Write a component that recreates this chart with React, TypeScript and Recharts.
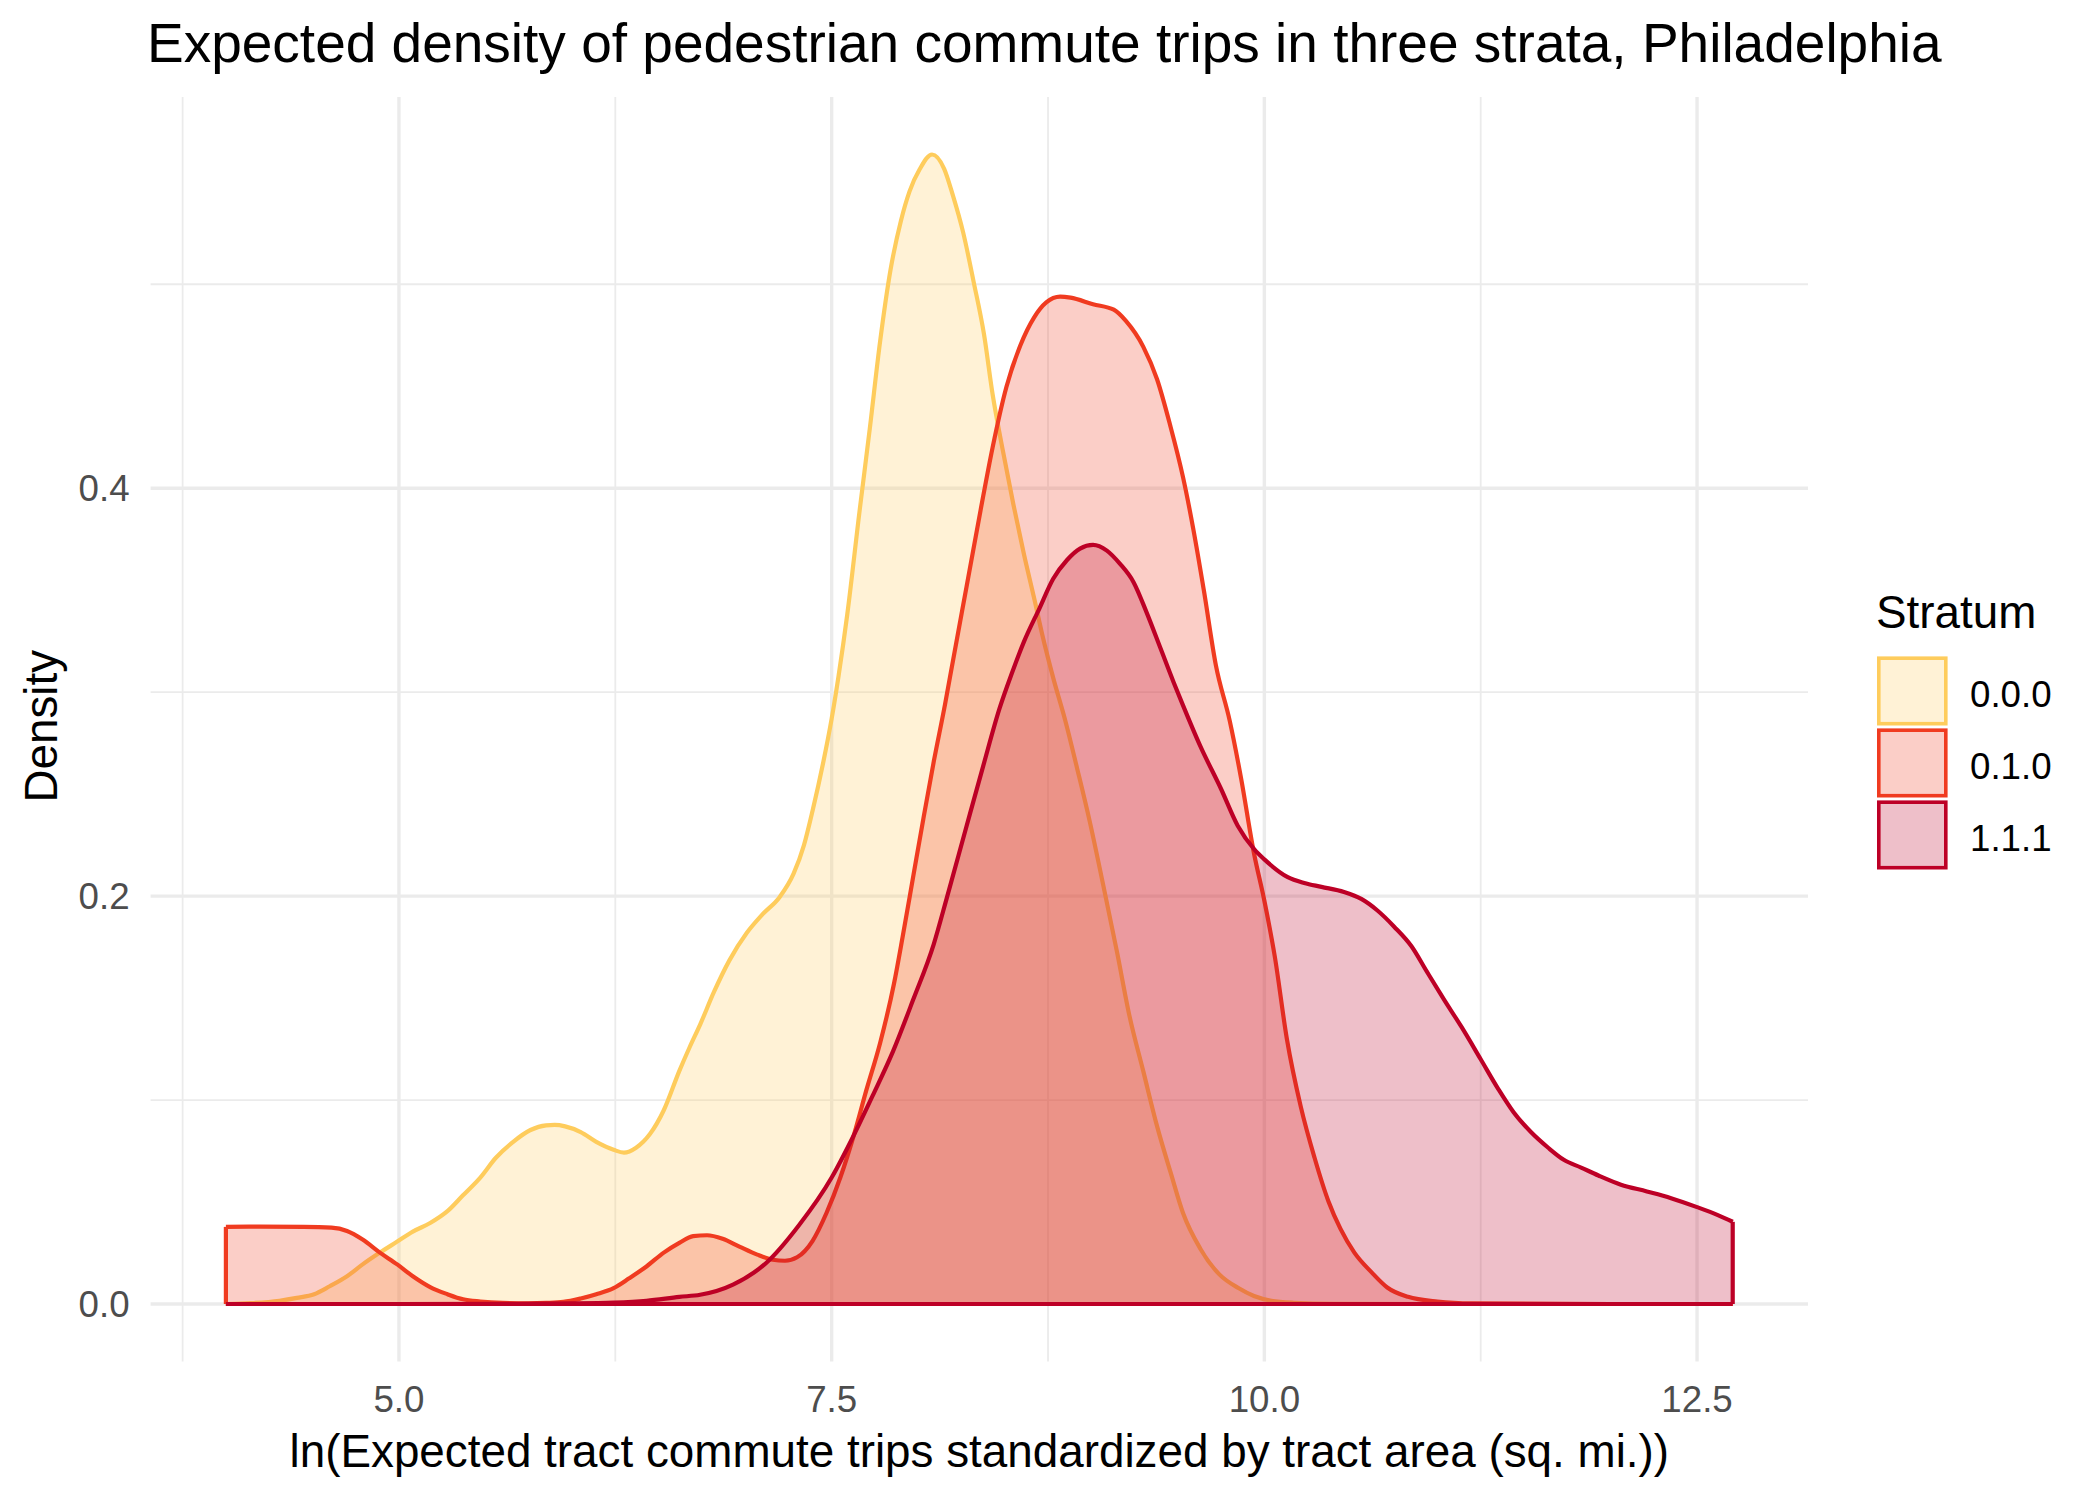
import React from 'react';
import { ComposedChart, Area, XAxis, YAxis, CartesianGrid, ReferenceLine, Legend, Label } from 'recharts';

const FONT = '"Liberation Sans", Arial, sans-serif';

const strata = ['0.0.0', '0.1.0', '1.1.1'];
const strokeColors = ['#FECC5C', '#F03B20', '#BD0026'];
const seriesKeys = ['s000', 's010', 's111'];

// density estimates, one x/y pair of arrays per stratum
const x000 = [4.0, 4.14, 4.31, 4.41, 4.51, 4.6, 4.7, 4.79, 4.89, 4.99, 5.08, 5.18, 5.28, 5.37, 5.47, 5.56, 5.66, 5.76, 5.85, 5.9, 5.96, 6.05, 6.14, 6.24, 6.3, 6.37, 6.45, 6.53, 6.62, 6.68, 6.74, 6.82, 6.91, 7.01, 7.1, 7.2, 7.28, 7.34, 7.39, 7.45, 7.5, 7.54, 7.59, 7.66, 7.72, 7.78, 7.84, 7.9, 7.95, 8.01, 8.08, 8.15, 8.2, 8.26, 8.32, 8.38, 8.43, 8.49, 8.55, 8.61, 8.67, 8.72, 8.78, 8.85, 8.92, 8.99, 9.07, 9.15, 9.22, 9.3, 9.38, 9.46, 9.53, 9.63, 9.74, 9.85, 9.94, 10.04, 10.17, 10.4, 11.0, 12.0, 12.706];
const y000 = [0, 0.0004, 0.0016, 0.003, 0.0048, 0.0087, 0.0136, 0.0194, 0.0252, 0.0306, 0.0355, 0.0397, 0.0455, 0.0533, 0.062, 0.0717, 0.0795, 0.0853, 0.0876, 0.0878, 0.0871, 0.0843, 0.0795, 0.0756, 0.0742, 0.0766, 0.0833, 0.095, 0.1143, 0.126, 0.137, 0.153, 0.1686, 0.182, 0.191, 0.1996, 0.211, 0.225, 0.242, 0.265, 0.287, 0.308, 0.338, 0.388, 0.429, 0.472, 0.507, 0.531, 0.5455, 0.5566, 0.5636, 0.5566, 0.5437, 0.5253, 0.5013, 0.4755, 0.446, 0.418, 0.392, 0.368, 0.346, 0.327, 0.307, 0.286, 0.262, 0.237, 0.205, 0.172, 0.1415, 0.1143, 0.0872, 0.064, 0.0446, 0.0271, 0.0145, 0.0078, 0.0039, 0.0016, 0.0006, 0.0001, 0, 0, 0];

const x010 = [4.0, 4.2, 4.45, 4.61, 4.7, 4.79, 4.89, 4.99, 5.08, 5.18, 5.28, 5.37, 5.47, 5.6, 5.75, 5.85, 5.95, 6.05, 6.14, 6.24, 6.33, 6.43, 6.53, 6.62, 6.7, 6.78, 6.87, 6.97, 7.07, 7.16, 7.23, 7.3, 7.39, 7.47, 7.55, 7.63, 7.7, 7.78, 7.86, 7.91, 7.97, 8.03, 8.09, 8.155, 8.2, 8.28, 8.36, 8.43, 8.51, 8.59, 8.67, 8.74, 8.82, 8.88, 9.01, 9.13, 9.2, 9.3, 9.38, 9.455, 9.53, 9.59, 9.65, 9.72, 9.8, 9.865, 9.94, 10.0, 10.06, 10.13, 10.21, 10.29, 10.37, 10.44, 10.52, 10.62, 10.71, 10.83, 11.0, 11.2, 12.0, 12.706];
const y010 = [0.0378, 0.0379, 0.0378, 0.0374, 0.0358, 0.0316, 0.0252, 0.0194, 0.0136, 0.0083, 0.0048, 0.0023, 0.0012, 0.0005, 0.0003, 0.0005, 0.001, 0.0027, 0.0048, 0.0078, 0.0126, 0.0184, 0.0252, 0.03, 0.0333, 0.0337, 0.032, 0.028, 0.0242, 0.0217, 0.0212, 0.0229, 0.031, 0.0446, 0.062, 0.0833, 0.1047, 0.128, 0.157, 0.18, 0.209, 0.238, 0.266, 0.294, 0.315, 0.352, 0.389, 0.42, 0.4497, 0.47, 0.4838, 0.4911, 0.4939, 0.4934, 0.4902, 0.4875, 0.482, 0.4694, 0.4534, 0.4311, 0.4054, 0.3797, 0.3501, 0.3131, 0.2859, 0.258, 0.221, 0.1977, 0.1705, 0.13, 0.0969, 0.0717, 0.0504, 0.0368, 0.0252, 0.0155, 0.0081, 0.0035, 0.0012, 0.0003, 0, 0];

const x111 = [4.0, 5.0, 5.6, 6.0, 6.24, 6.43, 6.62, 6.74, 6.93, 7.12, 7.31, 7.5, 7.62, 7.74, 7.855, 7.97, 8.09, 8.165, 8.28, 8.375, 8.47, 8.54, 8.61, 8.7, 8.78, 8.86, 8.935, 9.01, 9.09, 9.165, 9.245, 9.32, 9.4, 9.475, 9.53, 9.63, 9.75, 9.846, 9.942, 10.0, 10.135, 10.23, 10.33, 10.46, 10.56, 10.655, 10.75, 10.85, 10.94, 11.04, 11.14, 11.25, 11.35, 11.44, 11.54, 11.64, 11.73, 11.83, 11.93, 12.06, 12.21, 12.35, 12.5, 12.62, 12.706];
const y111 = [0, 0, 0.0001, 0.0003, 0.0007, 0.0016, 0.0035, 0.0045, 0.0095, 0.02, 0.0385, 0.062, 0.0814, 0.1027, 0.124, 0.149, 0.1765, 0.199, 0.2345, 0.2636, 0.292, 0.309, 0.3245, 0.341, 0.3556, 0.3648, 0.3704, 0.3722, 0.3694, 0.363, 0.3538, 0.339, 0.3215, 0.305, 0.2935, 0.2735, 0.2525, 0.2345, 0.2229, 0.218, 0.2093, 0.2064, 0.2045, 0.202, 0.1986, 0.1928, 0.185, 0.1754, 0.1628, 0.149, 0.1357, 0.12, 0.1056, 0.094, 0.0843, 0.0766, 0.0707, 0.0669, 0.063, 0.0585, 0.0552, 0.0519, 0.0475, 0.0436, 0.0403];

const xTicks = [5, 7.5, 10, 12.5];
const xMinor = [3.75, 6.25, 8.75, 11.25];
const yTicks = [0, 0.2, 0.4];
const yMinor = [0.1, 0.3, 0.5];
const xDomain = [3.565, 13.141];
const yDomain = [-0.0282, 0.5918];

const seriesX = [x000, x010, x111];
const seriesY = [y000, y010, y111];

// one table, each row carries a single stratum's value; areas skip the gaps
const rows: any[] = [];
seriesX.forEach((xs, si) => {
    xs.forEach((x, i) => rows.push({ x, [seriesKeys[si]]: seriesY[si][i] }));
});
rows.sort((a, b) => a.x - b.x);

const first = x010[0];
const last = x111[x111.length - 1];

const tickStyle = { fontSize: 36.7, fill: '#4D4D4D', fontFamily: FONT };
const LINE_W = 4.2;

// minor grid positions: use the axis scale when given, else map through the domain
const minorY = ({ yAxis, offset }: any) =>
    yMinor.map(v =>
        yAxis && typeof yAxis.scale === 'function'
            ? yAxis.scale(v)
            : offset.top + ((yDomain[1] - v) / (yDomain[1] - yDomain[0])) * offset.height
    );
const minorX = ({ xAxis, offset }: any) =>
    xMinor.map(v =>
        xAxis && typeof xAxis.scale === 'function'
            ? xAxis.scale(v)
            : offset.left + ((v - xDomain[0]) / (xDomain[1] - xDomain[0])) * offset.width
    );

const YTitle = (props: any) => {
    const vb = props.viewBox;
    return (
        <text
            transform={`translate(${vb.x + 57}, ${vb.y + vb.height / 2 - 3}) rotate(-90)`}
            textAnchor="middle"
            fontSize={45.8}
            fill="#000"
            fontFamily={FONT}
        >
            Density
        </text>
    );
};

const XTitle = (props: any) => {
    const vb = props.viewBox;
    return (
        <text x={vb.x + vb.width / 2} y={vb.y + 105.5} textAnchor="middle" fontSize={45.8} fill="#000" fontFamily={FONT}>
            ln(Expected tract commute trips standardized by tract area (sq. mi.))
        </text>
    );
};

const StratumLegend = () => (
    <svg width={224} height={330} style={{ display: 'block' }}>
        <text x={6} y={68} fontSize={45.8} fill="#000" fontFamily={FONT}>Stratum</text>
        {strata.map((s, i) => (
            <g key={s}>
                <rect
                    x={8.8}
                    y={98.2 + i * 72}
                    width={67}
                    height={65.5}
                    fill={strokeColors[i]}
                    fillOpacity={0.25}
                    stroke={strokeColors[i]}
                    strokeWidth={3.6}
                />
                <text x={100} y={146.7 + i * 72} fontSize={36.7} fill="#000" fontFamily={FONT}>{s}</text>
            </g>
        ))}
    </svg>
);

export default function App() {
    return (
        <div style={{ position: 'absolute', left: 0, top: 0, width: 2100, height: 1500, background: '#fff', fontFamily: FONT }}>
            <ComposedChart width={2100} height={1500} data={rows} margin={{ top: 97, right: 292, bottom: 0, left: 0 }}>
                <CartesianGrid
                    stroke="#EBEBEB"
                    strokeWidth={1.8}
                    horizontalCoordinatesGenerator={minorY}
                    verticalCoordinatesGenerator={minorX}
                />
                <CartesianGrid stroke="#EBEBEB" strokeWidth={3.4} syncWithTicks />
                <XAxis
                    type="number"
                    dataKey="x"
                    domain={xDomain}
                    allowDataOverflow
                    ticks={xTicks}
                    tickFormatter={(v: number) => v.toFixed(1)}
                    axisLine={false}
                    tickLine={false}
                    tickSize={0}
                    tickMargin={24.5}
                    height={138.5}
                    tick={tickStyle}
                    interval={0}
                >
                    <Label content={XTitle} />
                </XAxis>
                <YAxis
                    type="number"
                    domain={yDomain}
                    allowDataOverflow
                    ticks={yTicks}
                    tickFormatter={(v: number) => v.toFixed(1)}
                    axisLine={false}
                    tickLine={false}
                    tickSize={0}
                    tickMargin={21}
                    width={150.6}
                    tick={tickStyle}
                    interval={0}
                >
                    <Label content={YTitle} />
                </YAxis>
                {seriesKeys.map((k, i) => (
                    <Area
                        key={k}
                        name={strata[i]}
                        type="monotone"
                        dataKey={k}
                        stroke={strokeColors[i]}
                        strokeWidth={LINE_W}
                        fill={strokeColors[i]}
                        fillOpacity={0.25}
                        baseValue={0}
                        connectNulls
                        dot={false}
                        activeDot={false}
                        isAnimationActive={false}
                    />
                ))}
                <ReferenceLine
                    segment={[{ x: first, y: 0 }, { x: first, y: y010[0] }]}
                    stroke={strokeColors[1]}
                    strokeWidth={LINE_W}
                />
                <ReferenceLine
                    segment={[{ x: last, y: 0 }, { x: last, y: y111[y111.length - 1] }]}
                    stroke={strokeColors[2]}
                    strokeWidth={LINE_W}
                />
                <ReferenceLine
                    segment={[{ x: first, y: 0 }, { x: last, y: 0 }]}
                    stroke={strokeColors[2]}
                    strokeWidth={LINE_W}
                />
                <Legend
                    layout="vertical"
                    align="center"
                    verticalAlign="middle"
                    content={StratumLegend}
                    wrapperStyle={{ left: 1870, top: 560, width: 224 }}
                />
            </ComposedChart>
            <div
                style={{
                    position: 'absolute',
                    left: 147,
                    top: 16.4,
                    fontSize: 55,
                    lineHeight: '55px',
                    color: '#000',
                    whiteSpace: 'nowrap',
                }}
            >
                Expected density of pedestrian commute trips in three strata, Philadelphia
            </div>
        </div>
    );
}
